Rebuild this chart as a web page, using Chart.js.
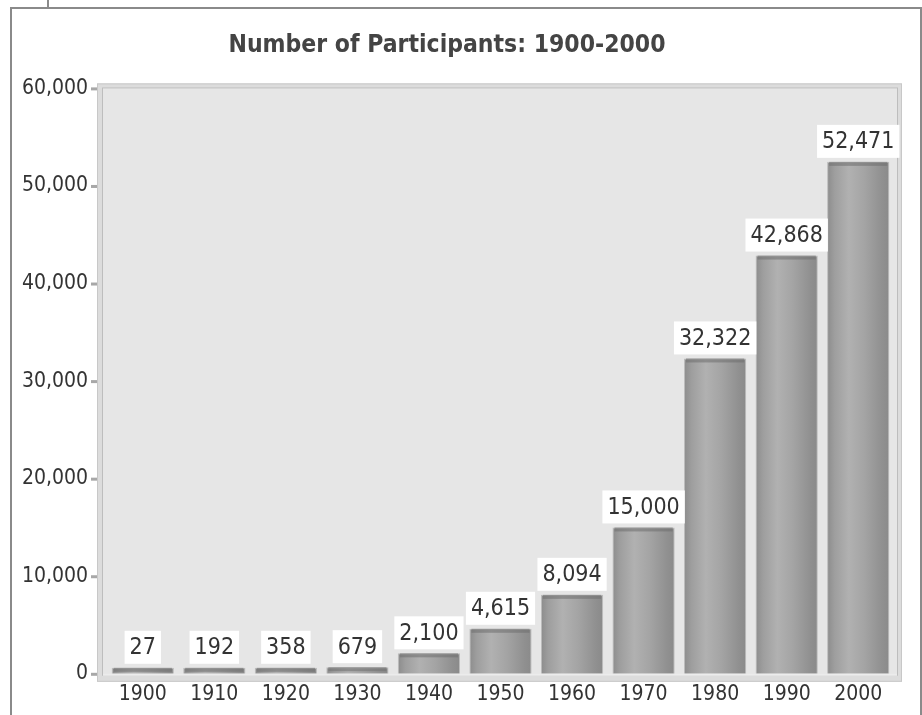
<!DOCTYPE html>
<html>
<head>
<meta charset="utf-8">
<script src="https://cdn.jsdelivr.net/npm/chart.js@4/dist/chart.umd.min.js"></script>
<style>
    html, body { margin: 0; padding: 0; background: #fff; }
    #wrap { position: relative; width: 922px; height: 715px; overflow: hidden; }
    #frame { position: absolute; left: 10px; top: 7px; width: 908px; height: 720px;
             border-top: 2px solid #8a8a8a; border-left: 2px solid #8a8a8a; border-right: 2px solid #8a8a8a; }
    #notch { position: absolute; left: 47px; top: 0; width: 2px; height: 8px; background: #8a8a8a; }
    #chart { position: absolute; left: 0; top: 0; }
</style>
</head>
<body>
<div id="wrap">
    <div id="frame"></div>
    <div id="notch"></div>
    <canvas id="chart" width="922" height="715"></canvas>
</div>
<script>
// Data
const years = ['1900', '1910', '1920', '1930', '1940', '1950', '1960', '1970', '1980', '1990', '2000'];
const participants = [27, 192, 358, 679, 2100, 4615, 8094, 15000, 32322, 42868, 52471];
const yTicks = [0, 10000, 20000, 30000, 40000, 50000, 60000];

const FONT = '"DejaVu Sans Condensed", "DejaVu Sans", sans-serif';
const BAR_PCT = 0.87;

function barFill(ctx) {
    const chart = ctx.chart;
    const xs = chart.scales.x;
    if (!xs || !chart.chartArea) return '#a0a0a0';
    const cx = xs.getPixelForValue(ctx.dataIndex);
    const w = (chart.chartArea.width / years.length) * BAR_PCT;
    const g = chart.ctx.createLinearGradient(cx - w / 2, 0, cx + w / 2, 0);
    g.addColorStop(0, '#8c8c8c');
    g.addColorStop(0.12, '#9e9e9e');
    g.addColorStop(0.35, '#b1b1b1');
    g.addColorStop(0.6, '#a4a4a4');
    g.addColorStop(0.88, '#909090');
    g.addColorStop(1, '#8a8a8a');
    return g;
}

// plot background with a bevelled frame
const plotFrame = {
    id: 'plotFrame',
    beforeDatasetsDraw(chart) {
        const { ctx, chartArea: a } = chart;
        const l = a.left - 10, t = a.top - 5, r = a.right + 8, b = a.bottom + 8;
        ctx.save();
        ctx.fillStyle = '#dcdcdc';
        ctx.fillRect(l, t, r - l, b - t);
        ctx.strokeStyle = '#c8c8c8';
        ctx.lineWidth = 1;
        ctx.strokeRect(l + 0.5, t + 0.5, r - l - 1, b - t - 1);
        ctx.fillStyle = '#e6e6e6';
        ctx.fillRect(l + 5, t + 4, r - l - 9, b - t - 10);
        ctx.strokeStyle = '#bdbdbd';
        ctx.strokeRect(l + 5.5, t + 4.5, r - l - 10, b - t - 11);
        // floor strip
        ctx.fillStyle = '#ececec';
        ctx.fillRect(l + 6, a.bottom, r - l - 11, b - a.bottom - 6);
        // y tick marks
        const ys = chart.scales.y;
        ctx.fillStyle = '#a8a8a8';
        yTicks.forEach(v => {
            const y = ys.getPixelForValue(v);
            ctx.fillRect(l - 6, y - 1, 6, 3);
        });
        ctx.restore();
    },
    afterDatasetsDraw(chart) {
        const { ctx } = chart;
        const meta = chart.getDatasetMeta(0);
        ctx.save();
        meta.data.forEach((bar, i) => {
            const w = bar.width;
            // darker cap on top of each cylinder
            ctx.fillStyle = 'rgba(110,110,110,0.55)';
            ctx.fillRect(bar.x - w / 2 + 2, bar.y, w - 4, 4);
            // value label in a white box
            ctx.font = '23px ' + FONT;
            const txt = participants[i].toLocaleString('en-US');
            const tw = ctx.measureText(txt).width;
            const bw = tw + 10, bh = 33;
            const by = bar.y - 4 - bh;
            ctx.fillStyle = '#ffffff';
            ctx.fillRect(bar.x - bw / 2, by, bw, bh);
            ctx.fillStyle = '#333333';
            ctx.textAlign = 'center';
            ctx.textBaseline = 'middle';
            ctx.fillText(txt, bar.x, by + bh / 2 + 1);
        });
        ctx.restore();
    }
};

new Chart(document.getElementById('chart'), {
    type: 'bar',
    data: {
        labels: years,
        datasets: [{
            data: participants,
            backgroundColor: barFill,
            borderColor: '#bcbcbc',
            borderWidth: 1,
            minBarLength: 6,
            barPercentage: BAR_PCT,
            categoryPercentage: 1
        }]
    },
    options: {
        responsive: false,
        animation: false,
        layout: { padding: { left: 0, right: 28, top: 0, bottom: 0 } },
        plugins: {
            legend: { display: false },
            tooltip: { enabled: false },
            title: {
                display: true,
                text: 'Number of Participants: 1900-2000',
                color: '#444444',
                font: { family: FONT, size: 24.5, weight: 'bold' },
                padding: { top: 31, bottom: 28 }
            }
        },
        scales: {
            x: {
                grid: { display: false, drawTicks: false },
                border: { display: false },
                ticks: { color: '#333333', font: { family: FONT, size: 21 }, padding: 8 }
            },
            y: {
                min: 0,
                max: 60000,
                afterFit: s => { s.width = 107; },
                afterBuildTicks: s => { s.ticks = yTicks.map(v => ({ value: v })); },
                grid: { display: false, drawTicks: false },
                border: { display: false },
                ticks: {
                    color: '#333333',
                    font: { family: FONT, size: 21 },
                    padding: 19,
                    callback: v => v.toLocaleString('en-US')
                }
            }
        }
    },
    plugins: [plotFrame]
});
</script>
</body>
</html>
